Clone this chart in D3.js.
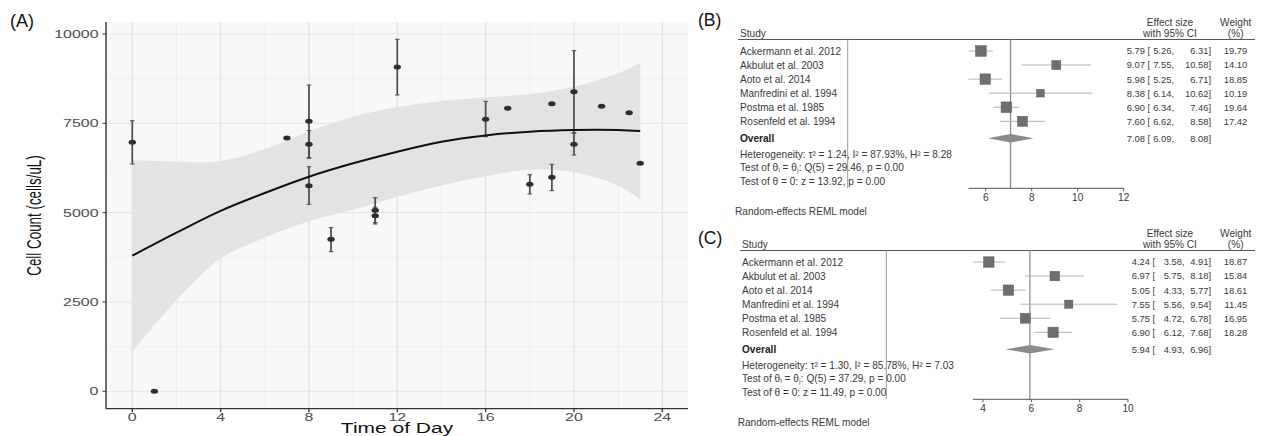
<!DOCTYPE html>
<html><head><meta charset="utf-8">
<script src="https://cdn.jsdelivr.net/npm/d3@7"></script>
<style>
body{margin:0;background:#fff;}
svg{display:block;font-family:"Liberation Sans",Arial,sans-serif;}
</style></head>
<body>
<svg id="chart" width="1261" height="436"></svg>
<script>
// ---------- Panel A data ----------
const ptTime  = [0, 1, 7, 8, 8, 8, 9, 11, 11, 12, 16, 17, 18, 19, 19, 20, 20, 21.25, 22.5, 23];
const ptCount = [6969, 0, 7089, 7557, 6913, 5754, 4254, 5066, 4915, 9076, 7612, 7920, 5794, 8049, 5990, 8385, 6913, 7976, 7797, 6381];
const ptLow   = [6361, null, null, 6541, 6521, 5234, 3907, 4720, 4682, 8293, 7126, null, 5522, null, 5614, 7237, 6613, null, null, null];
const ptHigh  = [7573, null, null, 8573, 7294, 6286, 4579, 5418, 5150, 9852, 8116, null, 6062, null, 6353, 9533, 7221, null, null, null];

const fitTime = [0, 2, 4, 6, 8, 10, 12, 14, 16, 18, 20, 22, 23];
const fitVal  = [3795, 4440, 5050, 5551, 6006, 6381, 6706, 6986, 7160, 7266, 7313, 7313, 7285];
const bandHi  = [6474, 6430, 6440, 6780, 7270, 7686, 7948, 8125, 8228, 8321, 8526, 8900, 9197];
const bandLo  = [1110, 2550, 3715, 4300, 4760, 5080, 5440, 5760, 6020, 6200, 6130, 5760, 5365];

const xTicksA = [0, 4, 8, 12, 16, 20, 24];
const xMinorA = [2, 6, 10, 14, 18, 22];
const yTicksA = [0, 2500, 5000, 7500, 10000];
const yMinorA = [1250, 3750, 6250, 8750];

// ---------- Forest data ----------
const studies = ["Ackermann et al. 2012","Akbulut et al. 2003","Aoto et al. 2014","Manfredini et al. 1994","Postma et al. 1985","Rosenfeld et al. 1994"];

const estB = [5.79, 9.07, 5.98, 8.38, 6.90, 7.60];
const loB  = [5.26, 7.55, 5.25, 6.14, 6.34, 6.62];
const hiB  = [6.31, 10.58, 6.71, 10.62, 7.46, 8.58];
const wB   = [19.79, 14.10, 18.85, 10.19, 19.64, 17.42];
const overallB = [7.08, 6.09, 8.08];
const hetB = ["Heterogeneity: τ² = 1.24, I² = 87.93%, H² = 8.28",
              "Test of θᵢ = θⱼ: Q(5) = 29.46, p = 0.00",
              "Test of θ = 0: z = 13.92, p = 0.00"];
const ticksB = [6, 8, 10, 12];

const estC = [4.24, 6.97, 5.05, 7.55, 5.75, 6.90];
const loC  = [3.58, 5.75, 4.33, 5.56, 4.72, 6.12];
const hiC  = [4.91, 8.18, 5.77, 9.54, 6.78, 7.68];
const wC   = [18.87, 15.84, 18.61, 11.45, 16.95, 18.28];
const overallC = [5.94, 4.93, 6.96];
const hetC = ["Heterogeneity: τ² = 1.30, I² = 85.78%, H² = 7.03",
              "Test of θᵢ = θⱼ: Q(5) = 37.29, p = 0.00",
              "Test of θ = 0: z = 11.49, p = 0.00"];
const ticksC = [4, 6, 8, 10];

const svg = d3.select("#chart");
const SX = 1.45; // horizontal stretch of panel A

// ================= Panel A =================
const pL = 106, pR = 688, pT = 22, pB = 408.7;
const x = d3.scaleLinear().domain([0, 24]).range([132.3, 662.3]);
const y = d3.scaleLinear().domain([0, 10000]).range([391.3, 34]);
const gA = svg.append("g");

gA.append("rect").attr("x", pL).attr("y", pT).attr("width", pR - pL).attr("height", pB - pT).attr("fill", "#f8f8f8");
// grid
gA.selectAll(".vmin").data(xMinorA).join("line").attr("x1", d => x(d)).attr("x2", d => x(d)).attr("y1", pT).attr("y2", pB)
  .attr("stroke", "#eeeeee").attr("stroke-width", 1.1);
gA.selectAll(".hmin").data(yMinorA).join("line").attr("y1", d => y(d)).attr("y2", d => y(d)).attr("x1", pL).attr("x2", pR)
  .attr("stroke", "#eeeeee").attr("stroke-width", 0.8);
gA.selectAll(".vmaj").data(xTicksA).join("line").attr("x1", d => x(d)).attr("x2", d => x(d)).attr("y1", pT).attr("y2", pB)
  .attr("stroke", "#e4e4e4").attr("stroke-width", 1.5);
gA.selectAll(".hmaj").data(yTicksA).join("line").attr("y1", d => y(d)).attr("y2", d => y(d)).attr("x1", pL).attr("x2", pR)
  .attr("stroke", "#e4e4e4").attr("stroke-width", 1);

// confidence band
const bandData = fitTime.map((t, i) => ({t, lo: bandLo[i], hi: bandHi[i], f: fitVal[i]}));
gA.append("path").datum(bandData)
  .attr("d", d3.area().x(d => x(d.t)).y0(d => y(d.lo)).y1(d => y(d.hi)).curve(d3.curveCatmullRom))
  .attr("fill", "#e3e3e3");

// error bars
const pts = ptTime.map((t, i) => ({t, v: ptCount[i], lo: ptLow[i], hi: ptHigh[i]}));
const eb = pts.filter(d => d.lo !== null);
gA.selectAll(".eb").data(eb).join("line")
  .attr("x1", d => x(d.t)).attr("x2", d => x(d.t)).attr("y1", d => y(d.lo)).attr("y2", d => y(d.hi))
  .attr("stroke", "#4a4a4a").attr("stroke-width", 1.7);
["lo", "hi"].forEach(k => {
  gA.selectAll(".cap" + k).data(eb).join("line")
    .attr("x1", d => x(d.t) - 2.3).attr("x2", d => x(d.t) + 2.3).attr("y1", d => y(d[k])).attr("y2", d => y(d[k]))
    .attr("stroke", "#4a4a4a").attr("stroke-width", 1);
});
// points
gA.selectAll(".pt").data(pts).join("ellipse")
  .attr("cx", d => x(d.t)).attr("cy", d => y(d.v)).attr("rx", 3.7).attr("ry", 2.5).attr("fill", "#2e2e2e");

// fit line
gA.append("path").datum(bandData)
  .attr("d", d3.line().x(d => x(d.t)).y(d => y(d.f)).curve(d3.curveCatmullRom))
  .attr("fill", "none").attr("stroke", "#111").attr("stroke-width", 2);

// axes
gA.append("line").attr("x1", pL).attr("x2", pL).attr("y1", pT).attr("y2", pB).attr("stroke", "#333").attr("stroke-width", 1.4);
gA.append("line").attr("x1", pL).attr("x2", pR).attr("y1", pB).attr("y2", pB).attr("stroke", "#333").attr("stroke-width", 1.2);
gA.selectAll(".yt").data(yTicksA).join("line").attr("x1", pL - 3.5).attr("x2", pL).attr("y1", d => y(d)).attr("y2", d => y(d))
  .attr("stroke", "#333").attr("stroke-width", 1);
gA.selectAll(".xt").data(xTicksA).join("line").attr("x1", d => x(d)).attr("x2", d => x(d)).attr("y1", pB).attr("y2", pB + 3.5)
  .attr("stroke", "#333").attr("stroke-width", 1.3);
gA.selectAll(".ytl").data(yTicksA).join("text")
  .attr("transform", d => `translate(98.5,${y(d) + 3.9}) scale(${SX},1)`)
  .attr("text-anchor", "end").attr("font-size", 11).attr("fill", "#4d4d4d").text(d => d);
gA.selectAll(".xtl").data(xTicksA).join("text")
  .attr("transform", d => `translate(${x(d)},${420.8}) scale(${SX},1)`)
  .attr("text-anchor", "middle").attr("font-size", 11).attr("fill", "#4d4d4d").text(d => d);
gA.append("text").attr("transform", `translate(397,433.4) scale(1.52,1)`)
  .attr("text-anchor", "middle").attr("font-size", 13.8).attr("fill", "#111").text("Time of Day");
gA.append("text").attr("transform", `translate(41,215.5) scale(${SX},1) rotate(-90)`)
  .attr("text-anchor", "middle").attr("font-size", 13.4).attr("fill", "#111").text("Cell Count (cells/uL)");

// panel labels
svg.append("text").attr("x", 10).attr("y", 27).attr("font-size", 18).attr("fill", "#111").text("(A)");
svg.append("text").attr("x", 698).attr("y", 26).attr("font-size", 17.5).attr("fill", "#111").text("(B)");
svg.append("text").attr("x", 698).attr("y", 244).attr("font-size", 17.5).attr("fill", "#111").text("(C)");

// ================= Forest plots =================
function forest(cfg) {
  const g = svg.append("g").attr("transform", `translate(0,${cfg.dy})`);
  const fx = d3.scaleLinear().domain(cfg.dom).range(cfg.rng);
  const fs = 10.1, vs = 9.4, tc = "#3a3a3a";
  const rowY = i => 51 + i * 14.06;
  const ovY = 138.3, axY = 188.3;
  // headers
  g.append("text").attr("x", cfg.lx).attr("y", 36.6).attr("font-size", fs).attr("fill", tc).text("Study");
  g.append("text").attr("x", 1170).attr("y", 25.8).attr("text-anchor", "middle").attr("font-size", fs).attr("fill", tc).text("Effect size");
  g.append("text").attr("x", 1170).attr("y", 36.8).attr("text-anchor", "middle").attr("font-size", fs).attr("fill", tc).text("with 95% CI");
  g.append("text").attr("x", 1235.7).attr("y", 25.8).attr("text-anchor", "middle").attr("font-size", fs).attr("fill", tc).text("Weight");
  g.append("text").attr("x", 1235.7).attr("y", 36.8).attr("text-anchor", "middle").attr("font-size", fs).attr("fill", tc).text("(%)");
  g.append("line").attr("x1", cfg.lx - 2).attr("x2", 1255).attr("y1", 39.5).attr("y2", 39.5).attr("stroke", "#555").attr("stroke-width", 1.1);
  // reference lines
  g.append("line").attr("x1", fx(0)).attr("x2", fx(0)).attr("y1", 39.5).attr("y2", axY).attr("stroke", "#9a9a9a").attr("stroke-width", 1);
  g.append("line").attr("x1", fx(cfg.ov[0])).attr("x2", fx(cfg.ov[0])).attr("y1", 39.5).attr("y2", axY).attr("stroke", "#8f8f8f").attr("stroke-width", 1.3);
  // rows
  const rows = studies.map((s, i) => ({s, e: cfg.est[i], lo: cfg.lo[i], hi: cfg.hi[i], w: cfg.w[i], i}));
  g.selectAll(".lab").data(rows).join("text").attr("x", cfg.lx).attr("y", d => rowY(d.i) + 3.6)
    .attr("font-size", fs).attr("fill", tc).text(d => d.s);
  g.selectAll(".ci").data(rows).join("line").attr("x1", d => fx(d.lo)).attr("x2", d => fx(d.hi))
    .attr("y1", d => rowY(d.i)).attr("y2", d => rowY(d.i)).attr("stroke", "#b4b4b4").attr("stroke-width", 1);
  g.selectAll(".sq").data(rows).join("rect")
    .attr("x", d => fx(d.e) - 1.2 * Math.sqrt(d.w)).attr("y", d => rowY(d.i) - 1.2 * Math.sqrt(d.w))
    .attr("width", d => 2.4 * Math.sqrt(d.w)).attr("height", d => 2.4 * Math.sqrt(d.w))
    .attr("fill", "#6e6e6e").attr("stroke", "#5a5a5a").attr("stroke-width", 0.5);
  const f2 = d3.format(".2f");
  const valRow = (sel, yy, e, lo, hi) => {
    sel.append("text").attr("x", cfg.vx).attr("y", yy).attr("font-size", vs).attr("fill", tc).text(f2(e));
    sel.append("text").attr("x", cfg.bx).attr("y", yy).attr("font-size", vs).attr("fill", tc).text("[");
    sel.append("text").attr("x", cfg.lowR).attr("y", yy).attr("text-anchor", "end").attr("font-size", vs).attr("fill", tc).text(f2(lo) + ",");
    sel.append("text").attr("x", 1211).attr("y", yy).attr("text-anchor", "end").attr("font-size", vs).attr("fill", tc).text(f2(hi) + "]");
  };
  rows.forEach(d => {
    valRow(g, rowY(d.i) + 3.4, d.e, d.lo, d.hi);
    g.append("text").attr("x", 1247.3).attr("y", rowY(d.i) + 3.4).attr("text-anchor", "end")
      .attr("font-size", vs).attr("fill", tc).text(f2(d.w));
  });
  // overall
  g.append("text").attr("x", cfg.lx).attr("y", ovY + 3.6).attr("font-size", fs).attr("font-weight", "bold").attr("fill", "#222").text("Overall");
  g.append("path").attr("d", `M${fx(cfg.ov[1])},${ovY}L${fx(cfg.ov[0])},${ovY - 4.2}L${fx(cfg.ov[2])},${ovY}L${fx(cfg.ov[0])},${ovY + 4.2}Z`)
    .attr("fill", "#8a8a8a");
  valRow(g, ovY + 3.4, cfg.ov[0], cfg.ov[1], cfg.ov[2]);
  // heterogeneity
  g.selectAll(".het").data(cfg.het).join("text").attr("x", cfg.lx).attr("y", (d, i) => 154 + i * 13.8 + 3.6)
    .attr("font-size", fs).attr("fill", tc).text(d => d);
  // axis
  const minLo = d3.min(cfg.lo.concat([cfg.ov[1]]));
  g.append("line").attr("x1", fx(minLo)).attr("x2", fx(cfg.ticks[cfg.ticks.length - 1])).attr("y1", axY).attr("y2", axY)
    .attr("stroke", "#555").attr("stroke-width", 1);
  g.selectAll(".tk").data(cfg.ticks).join("line").attr("x1", d => fx(d)).attr("x2", d => fx(d)).attr("y1", axY).attr("y2", axY + 3)
    .attr("stroke", "#555").attr("stroke-width", 1);
  g.selectAll(".tkl").data(cfg.ticks).join("text").attr("x", d => fx(d)).attr("y", axY + 12.5).attr("text-anchor", "middle")
    .attr("font-size", fs).attr("fill", tc).text(d => d);
  g.append("text").attr("x", cfg.rx).attr("y", 211.7 + 3.6).attr("font-size", fs).attr("fill", tc).text("Random-effects REML model");
}

forest({dy: 0, dom: [6, 12], rng: [985.7, 1123.7], est: estB, lo: loB, hi: hiB, w: wB, ov: overallB, het: hetB, ticks: ticksB,
        lx: 740, vx: 1126.7, bx: 1147.5, lowR: 1174, rx: 735});
forest({dy: 211, dom: [4, 10], rng: [983, 1128], est: estC, lo: loC, hi: hiC, w: wC, ov: overallC, het: hetC, ticks: ticksC,
        lx: 742, vx: 1131.7, bx: 1152.5, lowR: 1184.5, rx: 737.7});
</script>
</body></html>
